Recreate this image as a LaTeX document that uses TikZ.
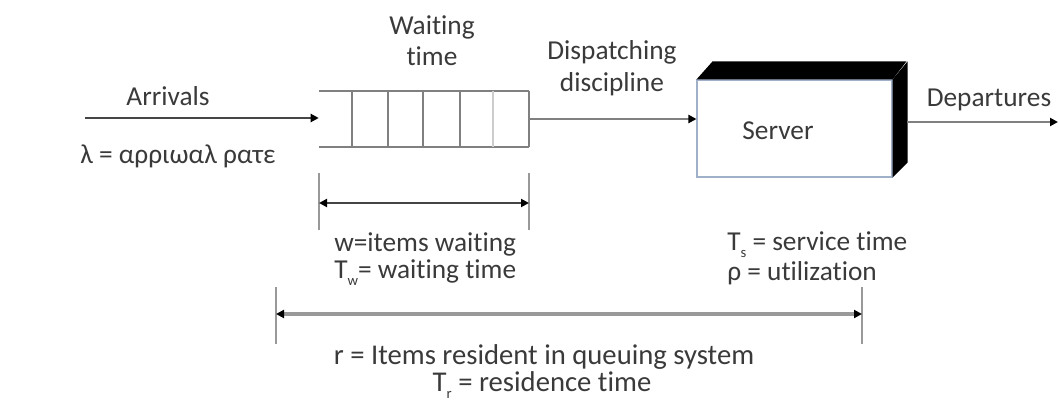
\documentclass[tikz,border=0pt]{standalone}
\usepackage{fontspec}
\setmainfont{Carlito}[Ligatures=NoCommon]
\usetikzlibrary{arrows.meta}
\definecolor{txt}{HTML}{3A3A3A}
\definecolor{qline}{HTML}{808080}
\definecolor{gline}{HTML}{999999}
\definecolor{dline}{HTML}{454545}
\definecolor{sedge}{HTML}{A0B0C8}
\newcommand{\lowsub}[1]{\raisebox{-0.55ex}{\fontsize{11}{12}\selectfont #1}}
\begin{document}
\begin{tikzpicture}[x=0.75pt,y=-0.75pt,
  lbl/.style={text=txt,font=\fontsize{20.5}{24}\selectfont,inner sep=0pt},
  llbl/.style={lbl,anchor=mid west},
  clbl/.style={lbl,anchor=mid},
  tip/.style={-{Triangle[color=black,length=6pt,width=6pt]}},
  dtip/.style={{Triangle[color=black,length=6pt,width=6pt]}-{Triangle[color=black,length=6pt,width=6pt]}},
  tick/.style={draw=gline,line width=1pt},
  qbox/.style={draw=none,minimum width=157.5pt,minimum height=42pt,inner sep=0pt},
  sbox/.style={draw=sedge,line width=0.8pt,fill=white,minimum width=146.25pt,minimum height=72.75pt,inner sep=0pt}]
\useasboundingbox (0,0) rectangle (1059,403);

% queue
\node[qbox] (queue) at (424,119) {};
\draw[qline,line width=1.5pt] (queue.north west) -- (queue.north east)
  (queue.south west) -- (queue.south east);
\foreach \xx in {352,388,423,460,529}
  \draw[qline,line width=1.5pt] (\xx,0 |- queue.north) -- (\xx,0 |- queue.south);
\draw[gray!40,line width=1.5pt] (493,0 |- queue.north) -- (493,0 |- queue.south);

% server
\node[sbox] (server) at (794.5,128.5) {};
\node[clbl] (srvtxt) at (778,136) {Server};
\fill[black] (server.north west) -- ++(16,-18) -- ++(194,0) -- (server.north east) -- cycle;
\fill[black] (server.north east) -- ++(15,-18) -- ++(0,101) -- (server.south east) -- cycle;

% arrivals
\coordinate (arr0) at (85,118);
\draw[dline,line width=1.5pt,tip] (arr0) -- (arr0 -| queue.west);
\node[clbl] (arrtxt) at (168,102) {Arrivals};
\node[llbl] (lam) at (80,160) {λ = αρριωαλ ρατε};

% waiting time / dispatching labels
\node[clbl] (wait1) at (432,31) {Waiting};
\node[clbl] (wait2) at (432,62) {time};
\node[clbl] (disp1) at (612,56) {Dispatching};
\node[clbl] (disp2) at (612,88) {discipline};

% dispatch
\draw[qline,line width=2.2pt,tip] (queue.east) -- (queue.east -| server.west);

% departures
\coordinate (dep0) at (907,122);
\coordinate (dep1) at (1058,122);
\draw[qline,line width=2.2pt,tip] (dep0) -- (dep1);
\node[clbl] (deptxt) at (989,103) {Departures};

% waiting span
\coordinate (w0) at (319,203);
\coordinate (w1) at (529,203);
\draw[tick] (319,173) -- (319,230);
\draw[tick] (529,173) -- (529,230);
\draw[dline,line width=1.5pt,dtip] (w0) -- (w1);
\node[llbl] (wtxt1) at (334,248) {w=items waiting};
\node[llbl] (wtxt2) at (334,275) {T\lowsub{w}= waiting time};

% service
\node[llbl] (stxt1) at (727,247) {T\lowsub{s} = service time};
\node[llbl] (stxt2) at (727,277) {ρ = utilization};

% residence span
\coordinate (r0) at (276,314);
\coordinate (r1) at (862,314);
\draw[tick] (276,287) -- (276,344);
\draw[tick] (862,287) -- (862,344);
\draw[gline,line width=3pt,dtip] (r0) -- (r1);
\node[clbl,font=\fontsize{21.5}{24}\selectfont] (rtxt1) at (544,361) {r = Items resident in queuing system};
\node[clbl,font=\fontsize{21.5}{24}\selectfont] (rtxt2) at (542,388) {T\lowsub{r} = residence time};
\end{tikzpicture}
\end{document}
